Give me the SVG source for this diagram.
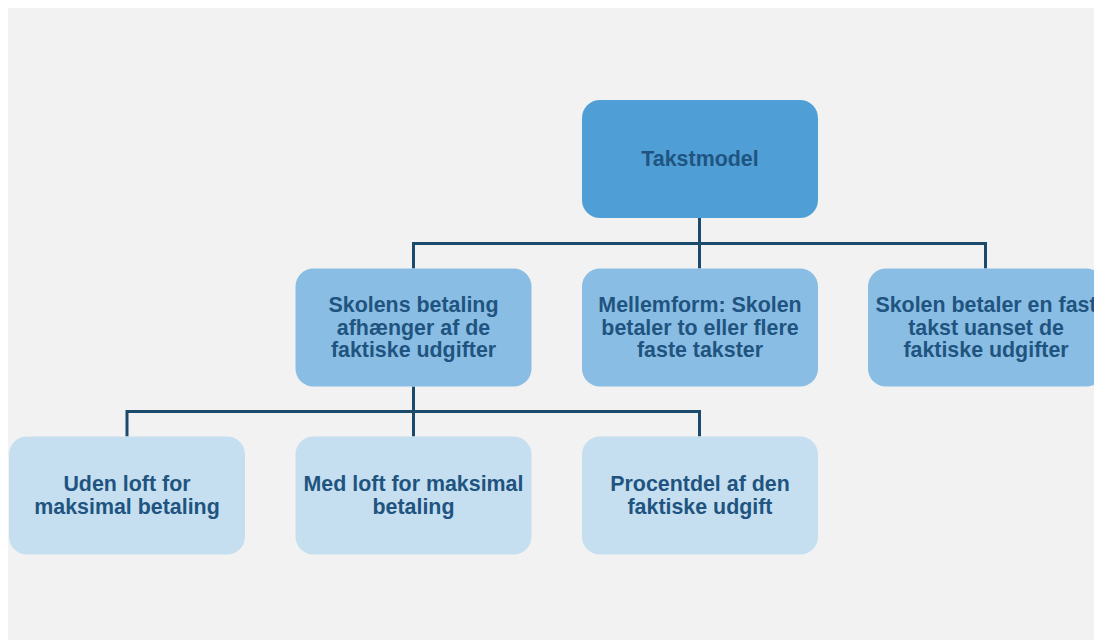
<svg xmlns="http://www.w3.org/2000/svg" width="1094" height="640" viewBox="0 0 1094 640">
<style>
.t{font-family:"Liberation Sans",Arial,sans-serif;font-weight:bold;font-size:21.4px;fill:#1f5480;text-anchor:middle}
.l1{fill:#4f9fd6}
.l2{fill:#8abde3}
.l3{fill:#c5dff0}
.c{fill:none;stroke:#1c4a6d;stroke-width:3}
</style>
<rect x="0" y="0" width="1094" height="640" fill="#ffffff"/>
<rect x="8" y="8" width="1086" height="632" fill="#f2f2f2"/>
<g id="connectors">
<path class="c" d="M699.5 218V243.5M413.5 268.5V243.5H985.5V268.5M699.5 243.5V268.5"/>
<path class="c" d="M413.5 386.5V411.5M127 436.5V411.5H699.5V436.5M413.5 411.5V436.5"/>
</g>
<g id="n-takstmodel">
<rect class="l1" x="582" y="100" width="236" height="118" rx="18"/>
<text class="t" x="700" y="166">Takstmodel</text>
</g>
<g id="n-skolens">
<rect class="l2" x="295.5" y="268.5" width="236" height="118" rx="18"/>
<text class="t" x="413.5" y="312">Skolens betaling</text>
<text class="t" x="413.5" y="334.5">afhænger af de</text>
<text class="t" x="413.5" y="357">faktiske udgifter</text>
</g>
<g id="n-mellemform">
<rect class="l2" x="582" y="268.5" width="236" height="118" rx="18"/>
<text class="t" x="700" y="312">Mellemform: Skolen</text>
<text class="t" x="700" y="334.5">betaler to eller flere</text>
<text class="t" x="700" y="357">faste takster</text>
</g>
<g id="n-fast">
<rect class="l2" x="868" y="268.5" width="236" height="118" rx="18"/>
<text class="t" x="986" y="312">Skolen betaler en fast</text>
<text class="t" x="986" y="334.5">takst uanset de</text>
<text class="t" x="986" y="357">faktiske udgifter</text>
</g>
<g id="n-uden">
<rect class="l3" x="9" y="436.5" width="236" height="118" rx="18"/>
<text class="t" x="127" y="491">Uden loft for</text>
<text class="t" x="127" y="513.5">maksimal betaling</text>
</g>
<g id="n-med">
<rect class="l3" x="295.5" y="436.5" width="236" height="118" rx="18"/>
<text class="t" x="413.5" y="491">Med loft for maksimal</text>
<text class="t" x="413.5" y="513.5">betaling</text>
</g>
<g id="n-procent">
<rect class="l3" x="582" y="436.5" width="236" height="118" rx="18"/>
<text class="t" x="700" y="491">Procentdel af den</text>
<text class="t" x="700" y="513.5">faktiske udgift</text>
</g>
</svg>
